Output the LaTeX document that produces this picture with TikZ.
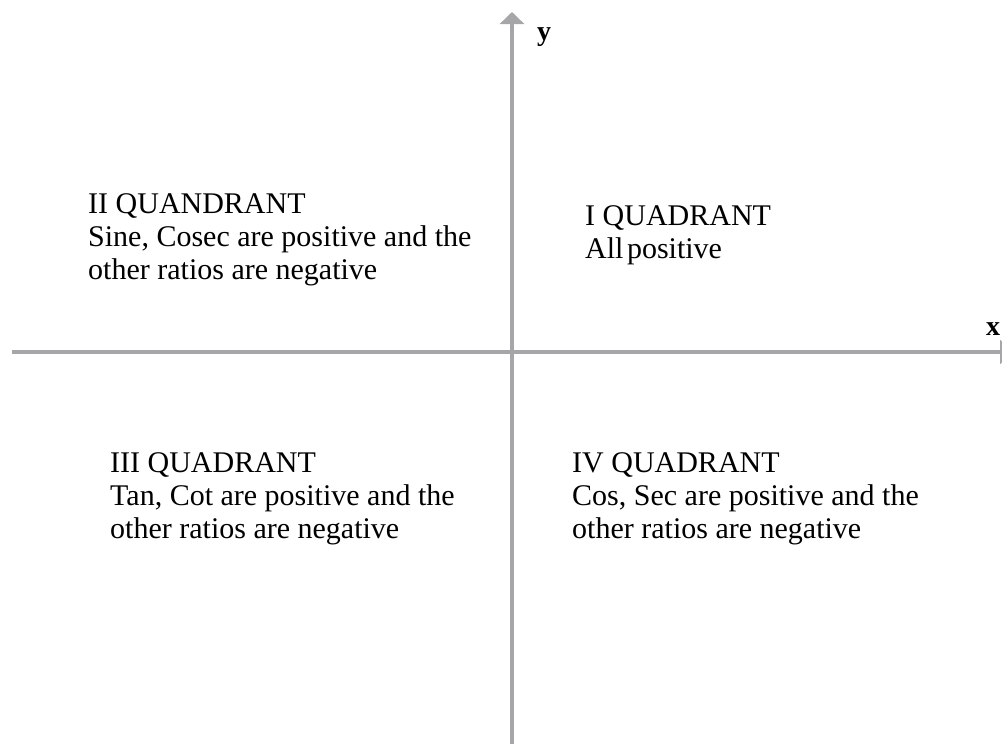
\documentclass[tikz,border=0pt]{standalone}
\usepackage{fontspec}
\setmainfont{Liberation Serif}
\usetikzlibrary{arrows.meta}
\definecolor{axisgray}{HTML}{A6A6A8}
\begin{document}
\begin{tikzpicture}[x=1pt,y=-1pt,
  axis/.style={draw=axisgray,line width=3.2pt,-{Triangle[width=24pt,length=12pt]}},
  qtext/.style={anchor=base west,inner sep=0pt,font=\fontsize{30}{33}\selectfont},
  axlabel/.style={anchor=base west,inner sep=0pt,font=\fontsize{28}{33}\selectfont\bfseries}]
\clip (0,0) rectangle (1002,744);
\useasboundingbox (0,0) rectangle (1002,744);
\coordinate (xs) at (12,352);
\coordinate (xe) at (1012,352);
\coordinate (ys) at (512,744);
\coordinate (ye) at (512,12);
\draw[axis] (xs) -- (xe);
\draw[axis] (ys) -- (ye);
\node[axlabel] (ylab) at (537,40) {y};
\node[axlabel] (xlab) at (986,335) {x};
% quadrant II
\node[qtext] (q2a) at (88,213) {II QUANDRANT};
\node[qtext] (q2b) at (88,246) {Sine, Cosec are positive and the};
\node[qtext] (q2c) at (88,279) {other ratios are negative};
% quadrant I
\node[qtext] (q1a) at (585,225) {I QUADRANT};
\node[qtext] (q1b) at (585,258) {All\hspace{-4pt} positive};
% quadrant III
\node[qtext] (q3a) at (110,472) {III QUADRANT};
\node[qtext] (q3b) at (110,505) {Tan, Cot are positive and the};
\node[qtext] (q3c) at (110,538) {other ratios are negative};
% quadrant IV
\node[qtext] (q4a) at (572,472) {IV QUADRANT};
\node[qtext] (q4b) at (572,505) {Cos, Sec are positive and the};
\node[qtext] (q4c) at (572,538) {other ratios are negative};
\end{tikzpicture}
\end{document}
